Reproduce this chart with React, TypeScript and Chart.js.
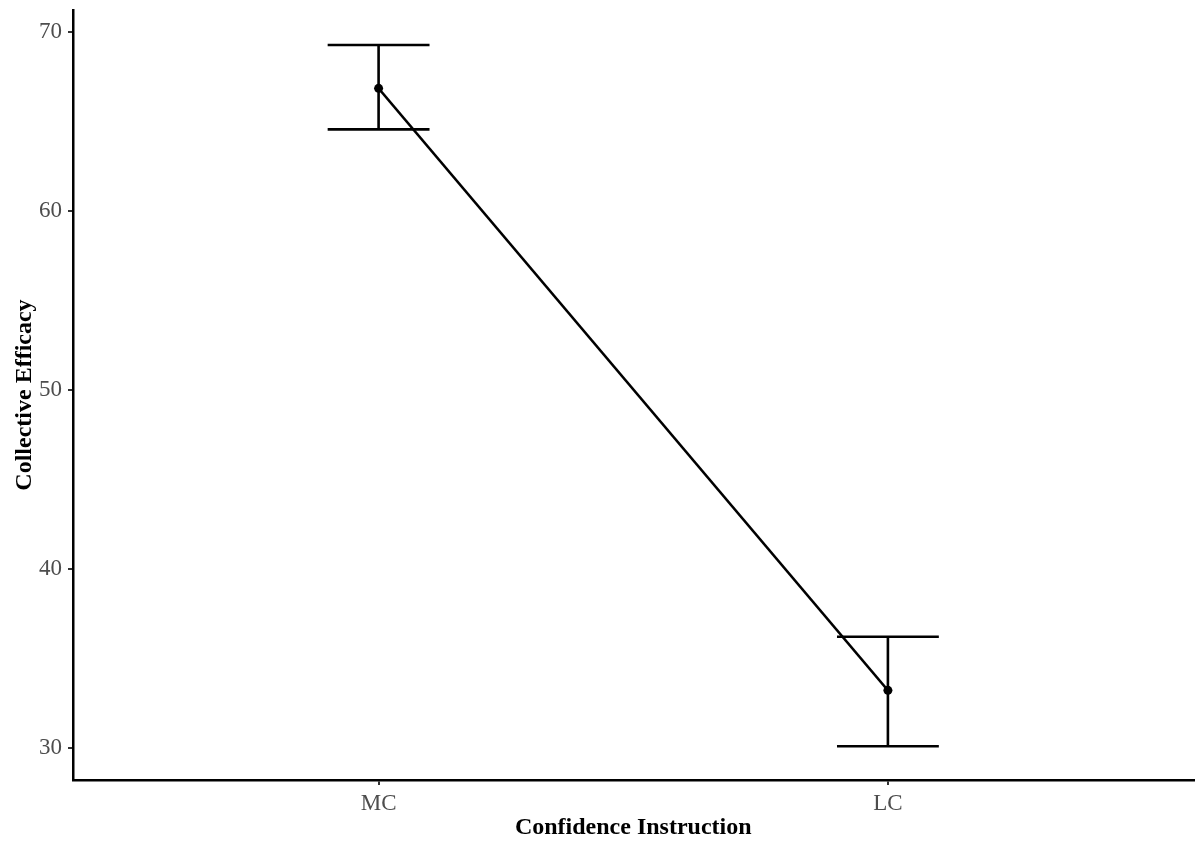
import React, { useEffect, useRef } from "react";
import { Chart, registerables } from "chart.js";

Chart.register(...registerables);

const categories = ["MC", "LC"];
const means = [66.85, 33.2];
const upper = [69.27, 36.2];
const lower = [64.56, 30.08];
const yTicks = [30, 40, 50, 60, 70];
const yMin = 28.19;
const yMax = 71.23;
const xMin = 0.4;
const xMax = 2.6;
const capHalf = 0.1;

const errorBarPlugin = {
  id: "errorBars",
  afterDatasetsDraw(chart: any) {
    const ctx = chart.ctx;
    const xs = chart.scales.x;
    const ys = chart.scales.y;
    ctx.save();
    ctx.strokeStyle = "#000";
    ctx.lineWidth = 2.6;
    ctx.lineCap = "butt";
    categories.forEach((_, i) => {
      const xv = i + 1;
      const x = xs.getPixelForValue(xv);
      const xl = xs.getPixelForValue(xv - capHalf);
      const xr = xs.getPixelForValue(xv + capHalf);
      const yu = ys.getPixelForValue(upper[i]);
      const yl = ys.getPixelForValue(lower[i]);
      ctx.beginPath();
      ctx.moveTo(x, yu);
      ctx.lineTo(x, yl);
      ctx.moveTo(xl, yu);
      ctx.lineTo(xr, yu);
      ctx.moveTo(xl, yl);
      ctx.lineTo(xr, yl);
      ctx.stroke();
    });
    ctx.restore();
  },
};

export default function App() {
  const ref = useRef<HTMLCanvasElement | null>(null);
  useEffect(() => {
    if (!ref.current) return;
    const chart = new Chart(ref.current, {
      type: "line",
      data: {
        datasets: [
          {
            data: means.map((m, i) => ({ x: i + 1, y: m })),
            borderColor: "#000",
            backgroundColor: "#000",
            borderWidth: 2.4,
            pointRadius: 4.5,
            pointBackgroundColor: "#000",
            pointBorderWidth: 0,
            tension: 0,
          },
        ],
      },
      options: {
        animation: false,
        responsive: false,
        maintainAspectRatio: false,
        layout: { padding: { top: 10, right: 3, left: 0, bottom: 0 } },
        plugins: { legend: { display: false }, tooltip: { enabled: false } },
        scales: {
          x: {
            type: "linear",
            min: xMin,
            max: xMax,
            afterBuildTicks: (s: any) => {
              s.ticks = categories.map((_, i) => ({ value: i + 1 }));
            },
            afterFit: (s: any) => {
              s.height = 62;
              s.paddingLeft = 0;
              s.paddingRight = 0;
            },
            ticks: {
              callback: (v: any) => categories[Math.round(Number(v)) - 1] ?? "",
              color: "#4d4d4d",
              font: { family: "Liberation Serif", size: 23 },
              padding: 5,
              maxRotation: 0,
              autoSkip: false,
            },
            grid: { drawOnChartArea: false, drawTicks: true, tickLength: 5, color: "#333", lineWidth: 2 },
            border: { display: true, color: "#000", width: 2.5 },
            title: {
              display: true,
              text: "Confidence Instruction",
              color: "#000",
              font: { family: "Liberation Serif", size: 24, weight: "bold" },
              padding: { top: 0, bottom: 0 },
            },
          },
          y: {
            type: "linear",
            min: yMin,
            max: yMax,
            afterBuildTicks: (s: any) => {
              s.ticks = yTicks.map((v) => ({ value: v }));
            },
            afterFit: (s: any) => {
              s.width = 73;
              s.paddingTop = 0;
              s.paddingBottom = 0;
            },
            ticks: {
              color: "#4d4d4d",
              font: { family: "Liberation Serif", size: 23 },
              padding: 6,
            },
            grid: { drawOnChartArea: false, drawTicks: true, tickLength: 5, color: "#333", lineWidth: 2 },
            border: { display: true, color: "#000", width: 2.5 },
            title: {
              display: true,
              text: "Collective Efficacy",
              color: "#000",
              font: { family: "Liberation Serif", size: 24, weight: "bold" },
              padding: { top: 10, bottom: 0 },
            },
          },
        },
      } as any,
      plugins: [errorBarPlugin],
    });
    return () => chart.destroy();
  }, []);
  return (
    <div style={{ position: "fixed", left: 0, top: 0, width: 1198, height: 842, background: "#fff" }}>
      <canvas ref={ref} width={1198} height={842} style={{ width: 1198, height: 842 }} />
    </div>
  );
}
